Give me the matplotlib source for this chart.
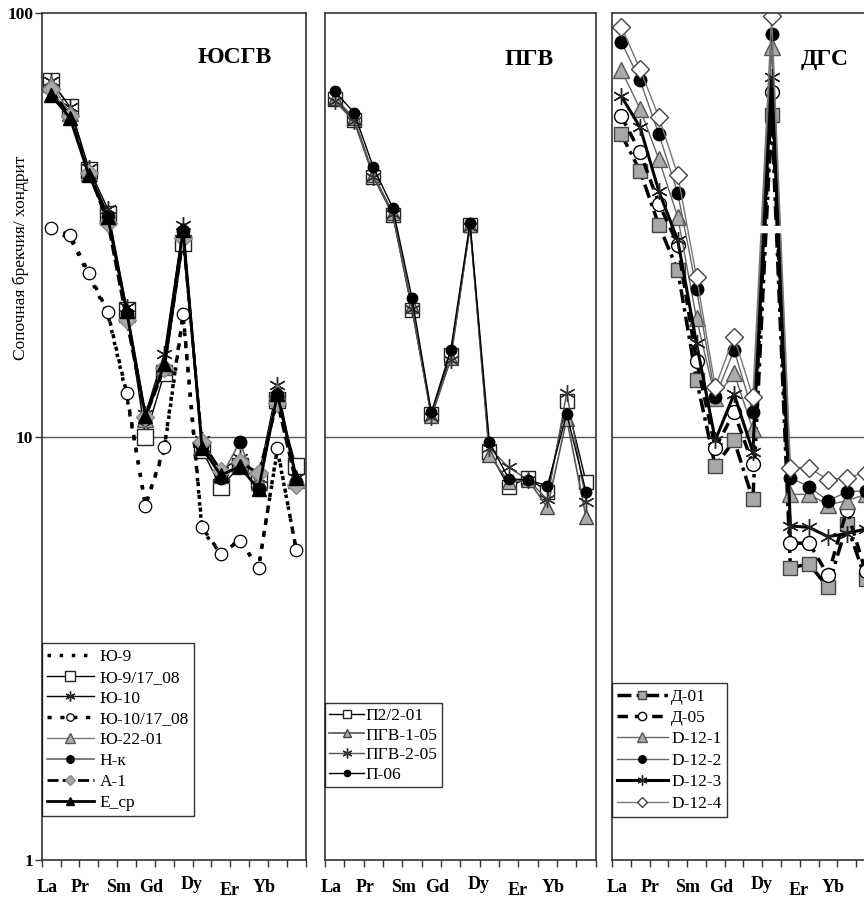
import matplotlib
matplotlib.use("Agg")
import matplotlib.pyplot as plt
import matplotlib.transforms as mtransforms
from matplotlib.patches import Rectangle
import numpy as np

plt.rcParams['font.family'] = ['Liberation Serif', 'DejaVu Serif']

elements = ['La', 'Ce', 'Pr', 'Nd', 'Sm', 'Eu', 'Gd', 'Tb', 'Dy', 'Ho', 'Er', 'Tm', 'Yb', 'Lu']
shown_labels = ['La', 'Pr', 'Sm', 'Gd', 'Dy', 'Er', 'Yb']

# panel 1 - ЮСГВ
yu9 = [30.5, 29.5, 24.0, 19.5, 12.5, 6.9, 9.3, 19.3, 6.0, 5.3, 5.7, 4.9, 9.3, 5.4]
yu9_1708 = [69.0, 60.0, 42.5, 33.6, 19.9, 10.0, 14.1, 28.6, 9.3, 7.6, 8.5, 7.9, 12.2, 8.5]
yu10 = [69.0, 60.0, 43.0, 34.5, 20.2, 11.3, 15.7, 31.5, 9.8, 8.3, 8.9, 8.0, 13.2, 8.0]
yu10_1708 = [31.0, 29.9, 24.3, 19.7, 12.7, 6.87, 9.42, 19.5, 6.1, 5.29, 5.68, 4.9, 9.37, 5.4]
yu22_01 = [68.0, 58.0, 42.0, 33.0, 19.5, 11.0, 14.6, 30.5, 9.5, 8.1, 8.6, 7.8, 12.8, 7.9]
n_k = [66.0, 57.0, 41.5, 33.0, 19.5, 11.0, 14.5, 30.5, 9.5, 8.0, 9.7, 7.5, 12.5, 7.8]
a_1 = [66.0, 57.0, 42.0, 32.0, 18.8, 11.1, 14.5, 29.4, 9.7, 8.3, 8.7, 8.2, 12.0, 7.7]
e_sr = [64.0, 56.5, 41.4, 33.0, 19.8, 11.2, 14.8, 30.8, 9.4, 8.1, 8.5, 7.5, 12.6, 8.0]

# panel 2 - ПГВ
p2_2_01 = [62.5, 56.0, 41.1, 33.4, 19.9, 11.3, 15.6, 31.5, 9.2, 7.6, 8.0, 7.4, 12.1, 7.8]
pgv_1_05 = [63.0, 56.5, 41.5, 33.8, 20.3, 11.2, 15.3, 31.5, 9.05, 7.8, 7.9, 6.8, 11.0, 6.45]
pgv_2_05 = [62.0, 55.5, 41.0, 33.5, 20.0, 11.1, 15.2, 31.3, 9.4, 8.45, 7.9, 7.1, 12.7, 7.0]
p_06 = [65.3, 58.2, 43.2, 34.7, 21.2, 11.4, 16.0, 32.0, 9.7, 7.95, 7.9, 7.65, 11.3, 7.4]

# panel 3 - ДГС
d_01 = [51.7, 42.3, 31.5, 24.7, 13.6, 8.5, 9.8, 7.1, 57.3, 4.9, 5.0, 4.4, 6.2, 4.6]
d_05 = [57.0, 46.9, 35.5, 28.4, 15.1, 9.4, 11.4, 8.6, 65.0, 5.6, 5.6, 4.7, 6.7, 4.8]
d12_1 = [73.3, 59.3, 45.1, 33.0, 19.0, 12.3, 14.1, 10.4, 83.0, 7.3, 7.3, 6.9, 7.05, 7.3]
d12_2 = [85.3, 69.3, 51.7, 37.6, 22.3, 12.4, 16.0, 11.4, 89.2, 8.0, 7.6, 7.05, 7.4, 7.45]
d12_3 = [63.6, 53.7, 37.9, 29.1, 16.6, 9.8, 12.6, 9.2, 70.5, 6.15, 6.1, 5.8, 5.9, 6.05]
d12_4 = [92.7, 73.6, 56.7, 41.5, 23.8, 13.1, 17.2, 12.4, 98.4, 8.44, 8.44, 7.9, 8.0, 8.2]

x = np.arange(len(elements))
label_pos = [-0.2, 1.55, 3.55, 5.3, 7.45, 9.45, 11.3]
label_dy = [0, 0, 0, 0, 0.003, -0.004, 0]

fig = plt.figure(figsize=(8.64, 8.99), dpi=100)
ax1 = fig.add_axes([0.0483, 0.0434, 0.3055, 0.9421])
ax2 = fig.add_axes([0.3762, 0.0434, 0.3133, 0.9421])
ax3 = fig.add_axes([0.7083, 0.0434, 0.3044, 0.9421])

for ax in (ax1, ax2, ax3):
    ax.set_yscale('log')
    ax.set_ylim(1, 100)
    ax.set_xlim(-0.5, len(elements) - 0.5)
    ax.set_xticks(np.arange(-0.5, len(elements)))
    ax.set_xticklabels([])
    ax.tick_params(axis='x', direction='out', length=5, width=1, color='#333333')
    ax.set_xticks([], minor=True)
    ax.yaxis.set_minor_locator(matplotlib.ticker.NullLocator())
    ax.axhline(10, color='#555555', lw=1, zorder=1)
    for s in ax.spines.values():
        s.set_color('#333333')
        s.set_linewidth(1.2)
    trans = mtransforms.blended_transform_factory(ax.transData, ax.transAxes)
    for lab, px, dy in zip(shown_labels, label_pos, label_dy):
        ax.text(px, -0.032 + dy, lab, transform=trans, ha='center', va='center',
                fontsize=13, fontweight='bold', clip_on=False)

ax1.set_yticks([1, 10, 100])
ax1.set_yticklabels(['1', '10', '100'], fontsize=12.5, fontweight='bold')
ax1.tick_params(axis='y', direction='out', length=5, width=1, pad=1, color='#333333')
for ax in (ax2, ax3):
    ax.set_yticks([])

# --- panel 1
ax1.plot(x, yu9, color='black', lw=2.5, ls=(0, (1, 2.5)), label='Ю-9')
ax1.plot(x, yu9_1708, color='black', lw=1, marker='s', ms=11, mfc='white', mec='#222222', label='Ю-9/17_08')
ax1.plot(x, yu10, color='black', lw=1, marker=(6, 2, 0), ms=12, mec='#222222', label='Ю-10')
ax1.plot(x, yu10_1708, color='black', lw=2.5, ls=(0, (1.2, 2.5)), marker='o', ms=9, mfc='white',
         mec='black', mew=0.9, label='Ю-10/17_08')
ax1.plot(x, yu22_01, color='#777777', lw=1, marker='^', ms=11, mfc='#b0b0b0', mec='#555555', label='Ю-22-01')
ax1.plot(x, n_k, color='#666666', lw=1.2, marker='o', ms=9, mfc='black', mec='black', label='Н-к')
ax1.plot(x, a_1, color='black', lw=2, ls=(0, (4, 1.5)), marker='D', ms=9, mfc='#a8a8a8', mec='#888888', label='А-1')
ax1.plot(x, e_sr, color='black', lw=2, marker='^', ms=10, mfc='black', mec='black', label='Е_ср')

ax1.text(0.73, 0.948, 'ЮСГВ', transform=ax1.transAxes, ha='center', va='center',
         fontsize=17, fontweight='bold')
leg1 = ax1.legend(loc='lower left', bbox_to_anchor=(0.0, 0.052), fontsize=12.5, frameon=True,
                  fancybox=False, edgecolor='black', borderpad=0.3, labelspacing=0.27,
                  handlelength=2.7, handletextpad=0.35, borderaxespad=0, markerscale=0.6)
leg1.get_frame().set_linewidth(1)

# --- panel 2
ax2.plot(x, p2_2_01, color='black', lw=1, marker='s', ms=10, mfc='white', mec='#222222', label='П2/2-01')
ax2.plot(x, pgv_1_05, color='#555555', lw=1.2, marker='^', ms=10, mfc='#aaaaaa', mec='#444444', label='ПГВ-1-05')
ax2.plot(x, pgv_2_05, color='#555555', lw=1, marker=(6, 2, 0), ms=12, mec='#333333', label='ПГВ-2-05')
ax2.plot(x, p_06, color='black', lw=1, marker='o', ms=7.5, mfc='black', mec='black', label='П-06')

ax2.text(0.755, 0.945, 'ПГВ', transform=ax2.transAxes, ha='center', va='center',
         fontsize=17, fontweight='bold')
leg2 = ax2.legend(loc='lower left', bbox_to_anchor=(0.0, 0.086), fontsize=12.5, frameon=True,
                  fancybox=False, edgecolor='black', borderpad=0.25, labelspacing=0.2,
                  handlelength=2.0, handletextpad=0.1, borderaxespad=0, markerscale=0.6)
leg2.get_frame().set_linewidth(1)

# --- panel 3
ax3.plot(x, d_01, color='black', lw=2.5, ls=(0, (4, 1.5, 1, 1.5)), marker='s', ms=10, mfc='#a8a8a8',
         mec='#444444', label='Д-01')
ax3.plot(x, d_05, color='black', lw=2.5, ls=(0, (3, 2)), marker='o', ms=10, mfc='white',
         mec='black', label='Д-05')
ax3.plot(x, d12_1, color='#666666', lw=1, marker='^', ms=11, mfc='#aaaaaa', mec='#555555', label='D-12-1')
ax3.plot(x, d12_2, color='#666666', lw=1, marker='o', ms=9, mfc='black', mec='black', label='D-12-2')
ax3.plot(x, d12_3, color='black', lw=2.2, marker=(6, 2, 0), ms=12, mec='#222222', label='D-12-3')
ax3.plot(x, d12_4, color='#777777', lw=1, marker='D', ms=9, mfc='white', mec='#444444', label='D-12-4')

# white gap across the spike, as in the scan
ax3.add_patch(Rectangle((0.545, 0.741), 0.1, 0.008, transform=ax3.transAxes, color='white', zorder=5))

ax3.text(0.81, 0.945, 'ДГС', transform=ax3.transAxes, ha='center', va='center',
         fontsize=17, fontweight='bold')
leg3 = ax3.legend(loc='lower left', bbox_to_anchor=(0.0, 0.051), fontsize=12.5, frameon=True,
                  fancybox=False, edgecolor='black', borderpad=0.3, labelspacing=0.3,
                  handlelength=2.9, handletextpad=0.2, borderaxespad=0, markerscale=0.6)
leg3.get_frame().set_linewidth(1)

fig.text(21 / 864, 1 - 258 / 899, 'Сопочная брекчия/ хондрит', rotation=90, ha='center',
         va='center', fontsize=12.5)

fig.savefig('out.png', dpi=100)
